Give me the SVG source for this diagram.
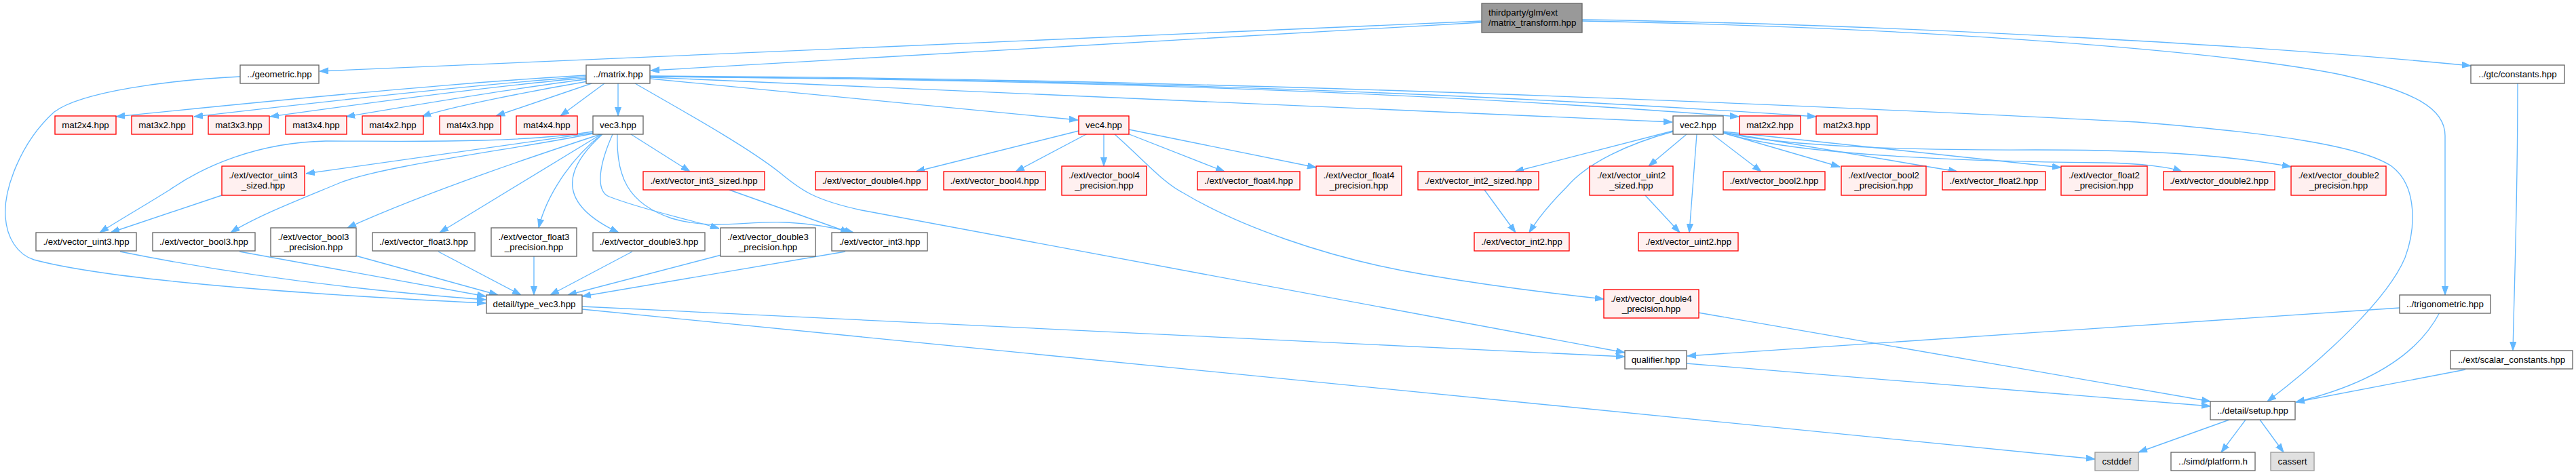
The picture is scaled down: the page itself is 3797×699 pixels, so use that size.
<svg xmlns="http://www.w3.org/2000/svg" width="3797" height="699" viewBox="0 0 3797 699">
<defs>
<style>
.n rect{stroke-width:1.33}
.w rect{fill:#ffffff;stroke:#666666}
.r rect{fill:#fff0f0;stroke:#ff0000}
.x rect{fill:#e0e0e0;stroke:#999999}
.root rect{fill:#999999;stroke:#666666}
text{font-family:"Liberation Sans",Arial,Helvetica,sans-serif;font-size:13.3px;fill:#000000;text-anchor:middle}
.root text{text-anchor:start}
#edges path{fill:none;stroke:#63b8ff;stroke-width:1.33;marker-end:url(#a)}
</style>
<marker id="a" markerWidth="13" markerHeight="10" refX="13" refY="5" orient="auto" markerUnits="userSpaceOnUse" viewBox="0 0 13 10">
<path d="M0,0.5 L13,5 L0,9.5 Z" fill="#63b8ff" stroke="#63b8ff" stroke-width="1"/>
</marker>
</defs>
<rect x="0" y="0" width="3797" height="699" fill="#ffffff"/>
<g id="edges">
<path d="M2184,31 L471,105"/>
<path d="M2184,33 L959,104"/>
<path d="M2332,29 C2800,36 3350,68 3642,97"/>
<path d="M2332,31 C2900,42 3300,80 3450,110 C3560,135 3604,160 3604,200 L3604,435"/>
<path d="M958,112 Q1900,116 3150,180 C3350,196 3480,215 3525,245 C3565,275 3560,340 3545,380 C3520,440 3430,525 3342,592"/>
<path d="M958,113 Q1900,120 2563,172"/>
<path d="M958,113 Q1900,118 2677,172"/>
<path d="M958,114 L2465,180"/>
<path d="M958,116 L1589,177"/>
<path d="M936,123 C1000,160 1100,215 1150,255 C1180,280 1200,295 1270,310 L2395,520"/>
<path d="M864,111 C780,116 640,124 171,172"/>
<path d="M864,113 C780,119 640,131 286,172"/>
<path d="M864,115 C780,122 640,138 398,172"/>
<path d="M864,117 C780,127 640,150 510,172"/>
<path d="M866,120 C790,133 660,158 622,172"/>
<path d="M872,123 L731,171"/>
<path d="M891,123 L826,171"/>
<path d="M911,123 L911,171"/>
<path d="M354,113 C250,118 120,135 80,165 C30,210 5,280 8,320 C10,350 25,375 50,383 C150,410 400,432 716,447"/>
<path d="M874,196 Q640,229 451,256"/>
<path d="M874,194 C760,212 600,208 480,208 C380,210 300,245 250,280 C210,305 175,325 147,343"/>
<path d="M874,197 C760,220 560,245 500,270 C440,295 380,318 340,343"/>
<path d="M885,198 Q640,278 512,336"/>
<path d="M886,198 L648,343"/>
<path d="M887,198 C840,235 805,290 794,336"/>
<path d="M888,198 C830,250 820,300 912,343"/>
<path d="M903,198 C882,245 878,282 898,290 C950,310 1010,322 1060,337"/>
<path d="M910,198 C908,260 925,300 990,322 C1050,340 1100,325 1160,328 C1200,330 1235,337 1258,343"/>
<path d="M930,198 L1017,253"/>
<path d="M1075,280 L1252,343"/>
<path d="M327,288 L163,343"/>
<path d="M177,371 Q420,420 716,442"/>
<path d="M353,371 L716,437"/>
<path d="M524,377 L734,435"/>
<path d="M646,371 L768,435"/>
<path d="M787,378 L787,435"/>
<path d="M932,371 L811,435"/>
<path d="M1063,376 L837,435"/>
<path d="M1246,371 L858,437"/>
<path d="M858,452 L2395,526"/>
<path d="M858,456 L3088,677"/>
<path d="M1590,193 L1350,253"/>
<path d="M1603,197 L1497,253"/>
<path d="M1627,197 L1627,245"/>
<path d="M1662,197 L1805,253"/>
<path d="M1664,191 L1940,247"/>
<path d="M1643,198 C1690,240 1715,270 1745,285 C1820,330 1950,380 2100,405 C2200,422 2280,432 2364,441"/>
<path d="M2466,193 L2233,253"/>
<path d="M2466,194 C2400,212 2340,240 2310,275 C2285,300 2265,325 2254,343"/>
<path d="M2486,198 L2430,245"/>
<path d="M2501,198 L2490,343"/>
<path d="M2524,198 L2596,253"/>
<path d="M2540,196 L2712,246"/>
<path d="M2540,195 L2885,253"/>
<path d="M2540,194 L3038,247"/>
<path d="M2540,196 C2650,230 2900,238 3100,240 C3160,241 3200,247 3216,253"/>
<path d="M2540,195 C2620,215 2800,222 3000,221 C3200,221 3300,232 3377,246"/>
<path d="M2188,280 L2234,343"/>
<path d="M2425,288 L2476,343"/>
<path d="M2503,461 L3258,592"/>
<path d="M2486,536 L3258,599"/>
<path d="M3537,454 L2487,525"/>
<path d="M3596,461 C3560,530 3480,570 3384,593"/>
<path d="M3634,545 L3384,593"/>
<path d="M3711,123 C3711,300 3706,420 3704,517"/>
<path d="M3286,619 L3152,667"/>
<path d="M3310,619 L3274,667"/>
<path d="M3331,619 L3366,667"/>
</g>
<g id="root" class="n root"><rect x="2184" y="5" width="148" height="43"/><text x="2194" y="23">thirdparty/glm/ext</text><text x="2194" y="38">/matrix_transform.hpp</text></g>
<g id="geometric" class="n w"><rect x="354" y="96" width="116" height="27"/><text x="412" y="114">../geometric.hpp</text></g>
<g id="matrix" class="n w"><rect x="864" y="96" width="94" height="27"/><text x="911" y="114">../matrix.hpp</text></g>
<g id="constants" class="n w"><rect x="3642" y="96" width="138" height="27"/><text x="3711" y="114">../gtc/constants.hpp</text></g>
<g id="mat2x4" class="n r"><rect x="81" y="171" width="90" height="27"/><text x="126" y="189">mat2x4.hpp</text></g>
<g id="mat3x2" class="n r"><rect x="194" y="171" width="90" height="27"/><text x="239" y="189">mat3x2.hpp</text></g>
<g id="mat3x3" class="n r"><rect x="307" y="171" width="90" height="27"/><text x="352" y="189">mat3x3.hpp</text></g>
<g id="mat3x4" class="n r"><rect x="421" y="171" width="90" height="27"/><text x="466" y="189">mat3x4.hpp</text></g>
<g id="mat4x2" class="n r"><rect x="534" y="171" width="90" height="27"/><text x="579" y="189">mat4x2.hpp</text></g>
<g id="mat4x3" class="n r"><rect x="648" y="171" width="90" height="27"/><text x="693" y="189">mat4x3.hpp</text></g>
<g id="mat4x4" class="n r"><rect x="761" y="171" width="90" height="27"/><text x="806" y="189">mat4x4.hpp</text></g>
<g id="vec3" class="n w"><rect x="874" y="171" width="74" height="27"/><text x="911" y="189">vec3.hpp</text></g>
<g id="vec4" class="n r"><rect x="1590" y="171" width="74" height="27"/><text x="1627" y="189">vec4.hpp</text></g>
<g id="vec2" class="n w"><rect x="2466" y="171" width="74" height="27"/><text x="2503" y="189">vec2.hpp</text></g>
<g id="mat2x2" class="n r"><rect x="2564" y="171" width="90" height="27"/><text x="2609" y="189">mat2x2.hpp</text></g>
<g id="mat2x3" class="n r"><rect x="2677" y="171" width="90" height="27"/><text x="2722" y="189">mat2x3.hpp</text></g>
<g id="uint3_sized" class="n r"><rect x="327" y="245" width="122" height="43"/><text x="388" y="263">./ext/vector_uint3</text><text x="388" y="278">_sized.hpp</text></g>
<g id="int3_sized" class="n r"><rect x="948" y="253" width="179" height="27"/><text x="1037.5" y="271">./ext/vector_int3_sized.hpp</text></g>
<g id="double4" class="n r"><rect x="1202" y="253" width="165" height="27"/><text x="1284.5" y="271">./ext/vector_double4.hpp</text></g>
<g id="bool4" class="n r"><rect x="1391" y="253" width="150" height="27"/><text x="1466" y="271">./ext/vector_bool4.hpp</text></g>
<g id="bool4_precision" class="n r"><rect x="1565" y="245" width="125" height="43"/><text x="1627.5" y="263">./ext/vector_bool4</text><text x="1627.5" y="278">_precision.hpp</text></g>
<g id="float4" class="n r"><rect x="1765" y="253" width="151" height="27"/><text x="1840.5" y="271">./ext/vector_float4.hpp</text></g>
<g id="float4_precision" class="n r"><rect x="1940" y="245" width="126" height="43"/><text x="2003" y="263">./ext/vector_float4</text><text x="2003" y="278">_precision.hpp</text></g>
<g id="int2_sized" class="n r"><rect x="2090" y="253" width="178" height="27"/><text x="2179" y="271">./ext/vector_int2_sized.hpp</text></g>
<g id="uint2_sized" class="n r"><rect x="2343" y="245" width="123" height="43"/><text x="2404.5" y="263">./ext/vector_uint2</text><text x="2404.5" y="278">_sized.hpp</text></g>
<g id="bool2" class="n r"><rect x="2540" y="253" width="150" height="27"/><text x="2615" y="271">./ext/vector_bool2.hpp</text></g>
<g id="bool2_precision" class="n r"><rect x="2714" y="245" width="125" height="43"/><text x="2776.5" y="263">./ext/vector_bool2</text><text x="2776.5" y="278">_precision.hpp</text></g>
<g id="float2" class="n r"><rect x="2863" y="253" width="152" height="27"/><text x="2939" y="271">./ext/vector_float2.hpp</text></g>
<g id="float2_precision" class="n r"><rect x="3038" y="245" width="127" height="43"/><text x="3101.5" y="263">./ext/vector_float2</text><text x="3101.5" y="278">_precision.hpp</text></g>
<g id="double2" class="n r"><rect x="3189" y="253" width="164" height="27"/><text x="3271" y="271">./ext/vector_double2.hpp</text></g>
<g id="double2_precision" class="n r"><rect x="3377" y="245" width="140" height="43"/><text x="3447" y="263">./ext/vector_double2</text><text x="3447" y="278">_precision.hpp</text></g>
<g id="uint3" class="n w"><rect x="53" y="343" width="148" height="27"/><text x="127" y="361">./ext/vector_uint3.hpp</text></g>
<g id="bool3" class="n w"><rect x="225" y="343" width="151" height="27"/><text x="300.5" y="361">./ext/vector_bool3.hpp</text></g>
<g id="bool3_precision" class="n w"><rect x="399" y="336" width="126" height="42"/><text x="462" y="354">./ext/vector_bool3</text><text x="462" y="369">_precision.hpp</text></g>
<g id="float3" class="n w"><rect x="549" y="343" width="151" height="27"/><text x="624.5" y="361">./ext/vector_float3.hpp</text></g>
<g id="float3_precision" class="n w"><rect x="724" y="336" width="126" height="42"/><text x="787" y="354">./ext/vector_float3</text><text x="787" y="369">_precision.hpp</text></g>
<g id="double3" class="n w"><rect x="874" y="343" width="165" height="27"/><text x="956.5" y="361">./ext/vector_double3.hpp</text></g>
<g id="double3_precision" class="n w"><rect x="1062" y="336" width="140" height="42"/><text x="1132" y="354">./ext/vector_double3</text><text x="1132" y="369">_precision.hpp</text></g>
<g id="int3" class="n w"><rect x="1226" y="343" width="141" height="27"/><text x="1296.5" y="361">./ext/vector_int3.hpp</text></g>
<g id="int2" class="n r"><rect x="2173" y="343" width="140" height="27"/><text x="2243" y="361">./ext/vector_int2.hpp</text></g>
<g id="uint2" class="n r"><rect x="2415" y="343" width="147" height="27"/><text x="2488.5" y="361">./ext/vector_uint2.hpp</text></g>
<g id="type_vec3" class="n w"><rect x="717" y="435" width="141" height="27"/><text x="787.5" y="453">detail/type_vec3.hpp</text></g>
<g id="double4_precision" class="n r"><rect x="2364" y="427" width="140" height="42"/><text x="2434" y="445">./ext/vector_double4</text><text x="2434" y="460">_precision.hpp</text></g>
<g id="trigonometric" class="n w"><rect x="3537" y="435" width="134" height="27"/><text x="3604" y="453">../trigonometric.hpp</text></g>
<g id="qualifier" class="n w"><rect x="2395" y="517" width="91" height="27"/><text x="2440.5" y="535">qualifier.hpp</text></g>
<g id="scalar_constants" class="n w"><rect x="3612" y="517" width="180" height="27"/><text x="3702" y="535">../ext/scalar_constants.hpp</text></g>
<g id="setup" class="n w"><rect x="3258" y="592" width="125" height="27"/><text x="3320.5" y="610">../detail/setup.hpp</text></g>
<g id="cstddef" class="n x"><rect x="3088" y="667" width="64" height="27"/><text x="3120" y="685">cstddef</text></g>
<g id="platform" class="n w"><rect x="3200" y="667" width="124" height="27"/><text x="3262" y="685">../simd/platform.h</text></g>
<g id="cassert" class="n x"><rect x="3347" y="667" width="64" height="27"/><text x="3379" y="685">cassert</text></g>
</svg>
